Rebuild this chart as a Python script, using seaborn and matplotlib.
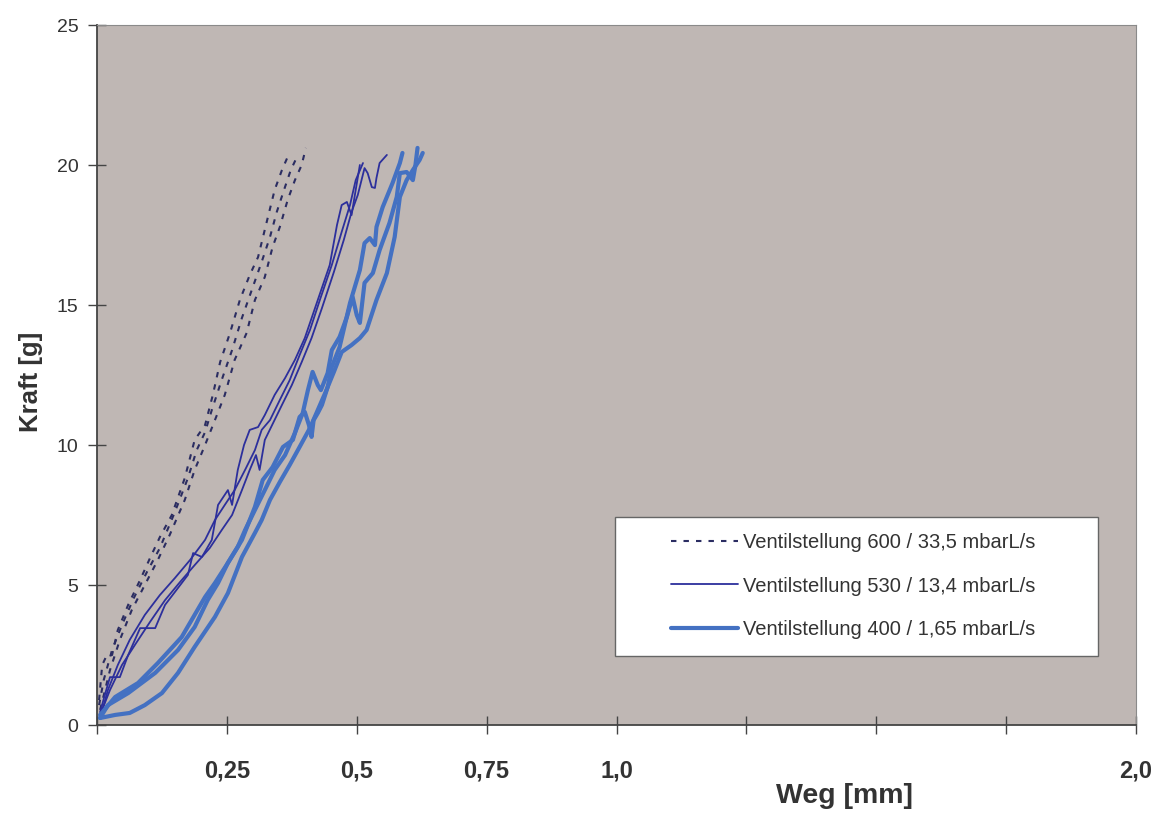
import matplotlib
matplotlib.use("Agg")
import matplotlib.pyplot as plt
from matplotlib.patches import Rectangle
from matplotlib.lines import Line2D
import seaborn as sns
import pandas as pd

# --- Messreihen: Weg [mm] / Kraft [g] -------------------------------------
# Ventilstellung 600 / 33,5 mbarL/s (drei Messungen)
weg_600_a = [0.004, 0.010, 0.019, 0.029, 0.040, 0.060, 0.083, 0.102, 0.121, 0.144, 0.169, 0.188,
             0.208, 0.223, 0.237, 0.256, 0.275, 0.294, 0.310, 0.329, 0.342, 0.356, 0.371]
kraft_600_a = [0.89, 2.14, 2.5, 2.5, 3.39, 4.29, 5.18, 5.96, 6.71, 7.5, 8.82, 10.18,
               10.71, 11.79, 12.96, 14.0, 15.18, 16.07, 16.71, 18.14, 19.11, 19.82, 20.46]
weg_600_b = [0.004, 0.013, 0.029, 0.048, 0.071, 0.096, 0.121, 0.150, 0.175, 0.192, 0.208,
             0.221, 0.240, 0.260, 0.279, 0.298, 0.317, 0.333, 0.346, 0.360, 0.373, 0.385]
kraft_600_b = [0.71, 1.61, 2.68, 3.57, 4.54, 5.46, 6.32, 7.61, 8.82, 9.82, 10.46,
               11.25, 12.32, 13.39, 14.54, 15.54, 16.54, 17.43, 18.32, 19.11, 19.82, 20.29]
weg_600_c = [0.006, 0.025, 0.044, 0.067, 0.092, 0.117, 0.140, 0.169, 0.188, 0.208, 0.227,
             0.246, 0.265, 0.288, 0.304, 0.323, 0.338, 0.352, 0.367, 0.381, 0.394, 0.402]
kraft_600_c = [0.54, 1.96, 3.04, 4.11, 5.0, 5.89, 6.79, 8.04, 9.11, 10.0, 10.89,
               11.79, 13.04, 14.0, 15.18, 16.0, 17.07, 17.79, 18.75, 19.46, 20.0, 20.61]

# Ventilstellung 530 / 13,4 mbarL/s (drei Messungen)
weg_530_a = [0.006, 0.015, 0.025, 0.044, 0.060, 0.083, 0.112, 0.131, 0.150, 0.175, 0.185, 0.202,
             0.221, 0.233, 0.252, 0.260, 0.271, 0.283, 0.294, 0.310, 0.323, 0.342, 0.362, 0.381,
             0.400, 0.425, 0.448, 0.462, 0.471, 0.481, 0.490, 0.498, 0.506]
kraft_530_a = [0.46, 1.07, 1.71, 1.71, 2.5, 3.46, 3.46, 4.29, 4.75, 5.36, 6.14, 6.0,
               6.61, 7.86, 8.39, 7.86, 9.11, 10.0, 10.54, 10.64, 11.07, 11.79, 12.39, 13.04,
               13.82, 15.18, 16.43, 17.86, 18.57, 18.68, 18.21, 19.11, 20.0]
weg_530_b = [0.006, 0.021, 0.040, 0.063, 0.092, 0.121, 0.150, 0.179, 0.208, 0.227, 0.246, 0.265,
             0.285, 0.304, 0.317, 0.333, 0.352, 0.371, 0.390, 0.410, 0.429, 0.452, 0.471, 0.487,
             0.498, 0.512]
kraft_530_b = [0.25, 1.25, 2.14, 3.04, 3.93, 4.64, 5.25, 5.89, 6.61, 7.32, 7.86, 8.39,
               9.11, 9.82, 10.54, 10.89, 11.61, 12.32, 13.21, 14.11, 15.18, 16.43, 17.61, 18.57,
               19.46, 20.07]
weg_530_c = [0.006, 0.025, 0.048, 0.073, 0.102, 0.131, 0.160, 0.188, 0.217, 0.240, 0.260, 0.279,
             0.294, 0.306, 0.313, 0.323, 0.337, 0.356, 0.375, 0.394, 0.413, 0.433, 0.456, 0.475,
             0.490, 0.502, 0.515, 0.521, 0.529, 0.535, 0.538, 0.544, 0.558]
kraft_530_c = [0.36, 1.25, 2.14, 2.86, 3.68, 4.46, 5.11, 5.71, 6.32, 6.96, 7.5, 8.39,
               9.11, 9.64, 9.11, 10.18, 10.71, 11.43, 12.14, 12.96, 13.82, 14.89, 16.18, 17.32,
               18.32, 18.93, 19.89, 19.71, 19.21, 19.18, 19.54, 20.07, 20.36]

# Ventilstellung 400 / 1,65 mbarL/s (drei Messungen)
weg_400_a = [0.006, 0.035, 0.079, 0.117, 0.163, 0.208, 0.227, 0.252, 0.279, 0.304, 0.319, 0.338,
             0.358, 0.377, 0.390, 0.400, 0.408, 0.413, 0.417, 0.425, 0.433, 0.444, 0.452, 0.467,
             0.487, 0.506, 0.515, 0.525, 0.535, 0.538, 0.550, 0.569, 0.583, 0.588]
kraft_400_a = [0.36, 1.0, 1.5, 2.21, 3.14, 4.57, 5.07, 5.79, 6.61, 7.79, 8.75, 9.21,
               9.93, 10.18, 11.0, 11.18, 10.71, 10.29, 10.89, 11.14, 11.43, 12.07, 12.79, 13.5,
               15.07, 16.25, 17.21, 17.39, 17.14, 17.79, 18.5, 19.36, 20.07, 20.43]
weg_400_b = [0.006, 0.021, 0.060, 0.112, 0.156, 0.188, 0.213, 0.233, 0.252, 0.271, 0.285, 0.304,
             0.323, 0.342, 0.362, 0.381, 0.396, 0.406, 0.415, 0.425, 0.431, 0.444, 0.452, 0.467,
             0.481, 0.492, 0.500, 0.506, 0.515, 0.531, 0.544, 0.563, 0.577, 0.583, 0.596, 0.608,
             0.613, 0.617]
kraft_400_b = [0.25, 0.71, 1.14, 1.86, 2.68, 3.5, 4.46, 5.07, 5.79, 6.36, 6.96, 7.68,
               8.39, 9.11, 9.64, 10.43, 11.14, 11.96, 12.61, 12.14, 11.96, 12.57, 13.39, 13.86,
               14.57, 15.29, 14.64, 14.36, 15.79, 16.14, 16.96, 17.93, 18.86, 19.71, 19.75, 19.46,
               20.0, 20.61]
weg_400_c = [0.006, 0.035, 0.063, 0.092, 0.125, 0.156, 0.188, 0.227, 0.252, 0.279, 0.304, 0.317,
             0.333, 0.352, 0.371, 0.390, 0.410, 0.425, 0.440, 0.456, 0.471, 0.490, 0.506, 0.519,
             0.538, 0.558, 0.573, 0.583, 0.596, 0.608, 0.621, 0.627]
kraft_400_c = [0.25, 0.36, 0.43, 0.71, 1.14, 1.86, 2.79, 3.86, 4.71, 6.0, 6.86, 7.32,
               8.04, 8.68, 9.29, 9.93, 10.61, 11.25, 11.89, 12.61, 13.32, 13.57, 13.82, 14.11,
               15.18, 16.14, 17.43, 18.86, 19.46, 19.82, 20.18, 20.43]

series_labels = ["Ventilstellung 600 / 33,5 mbarL/s",
                 "Ventilstellung 530 / 13,4 mbarL/s",
                 "Ventilstellung 400 / 1,65 mbarL/s"]

x_ticks = [0, 0.25, 0.5, 0.75, 1.0, 1.25, 1.5, 1.75, 2.0]
x_tick_labels = ["", "0,25", "0,5", "0,75", "1,0", "", "", "", "2,0"]
y_ticks = [0, 5, 10, 15, 20, 25]
y_tick_labels = ["0", "5", "10", "15", "20", "25"]

# --- Daten in Long-Form ---------------------------------------------------
runs = [
    (series_labels[0], "a", weg_600_a, kraft_600_a),
    (series_labels[0], "b", weg_600_b, kraft_600_b),
    (series_labels[0], "c", weg_600_c, kraft_600_c),
    (series_labels[1], "a", weg_530_a, kraft_530_a),
    (series_labels[1], "b", weg_530_b, kraft_530_b),
    (series_labels[1], "c", weg_530_c, kraft_530_c),
    (series_labels[2], "a", weg_400_a, kraft_400_a),
    (series_labels[2], "b", weg_400_b, kraft_400_b),
    (series_labels[2], "c", weg_400_c, kraft_400_c),
]
frames = []
for serie, run, w, k in runs:
    frames.append(pd.DataFrame({"serie": serie, "run": run, "weg": w, "kraft": k,
                                "order": range(len(w))}))
df = pd.concat(frames, ignore_index=True)

styles = {
    series_labels[0]: dict(color="#2B2D62", lw=1.5, ls=(0, (2.6, 3.4))),
    series_labels[1]: dict(color="#2C2F9C", lw=1.3, ls="-"),
    series_labels[2]: dict(color="#4471C2", lw=3.0, ls="-"),
}

# --- Figur ------------------------------------------------------------------
sns.set_theme(style="white")
plt.rcParams["font.family"] = ["Liberation Sans", "DejaVu Sans"]
text_color = "#333333"

fig = plt.figure(figsize=(11.54, 8.13), dpi=100)
ax = fig.add_axes([97 / 1154, 88 / 813, 1039 / 1154, 700 / 813])
ax.set_facecolor("#BFB7B4")

for (serie, run), sub in df.groupby(["serie", "run"], sort=False):
    st = styles[serie]
    sns.lineplot(data=sub.sort_values("order"), x="weg", y="kraft", sort=False,
                 estimator=None, ax=ax, color=st["color"], linewidth=st["lw"],
                 linestyle=st["ls"], legend=False)

ax.set_xlim(0, 2.0)
ax.set_ylim(0, 25)
ax.set_xticks(x_ticks)
ax.set_xticklabels(x_tick_labels, fontsize=17, fontweight="bold", color=text_color)
ax.set_yticks(y_ticks)
ax.set_yticklabels(y_tick_labels, fontsize=14, color=text_color)
ax.tick_params(axis="x", bottom=True, direction="inout", length=13, width=1,
               color="#444444", pad=18)
ax.tick_params(axis="y", left=True, direction="inout", length=13, width=1,
               color="#444444", pad=7)

ax.set_xlabel("Weg [mm]", fontsize=20.5, fontweight="bold", color=text_color)
ax.xaxis.set_label_coords((845 - 97) / 1039, -0.083)
ax.set_ylabel("Kraft [g]", fontsize=18.5, fontweight="bold", color=text_color)
ax.yaxis.set_label_coords(-0.052, 0.49)

for side in ["left", "bottom"]:
    ax.spines[side].set_color("#444444")
    ax.spines[side].set_linewidth(1.3)
for side in ["top", "right"]:
    ax.spines[side].set_color("#8A8A8A")
    ax.spines[side].set_linewidth(0.8)
ax.grid(False)

# Legendenkasten
box = Rectangle(((615 - 97) / 1039, (725 - 656) / 700), 483 / 1039, 139 / 700,
                transform=ax.transAxes, facecolor="white", edgecolor="#666666",
                linewidth=1.0, zorder=5)
ax.add_patch(box)
handles = [Line2D([], [], **{"color": styles[s]["color"], "linewidth": styles[s]["lw"],
                             "linestyle": styles[s]["ls"]}) for s in series_labels]
leg = ax.legend(handles, series_labels, loc="center",
                bbox_to_anchor=((853 - 97) / 1039, (725 - 586) / 700),
                frameon=False, fontsize=14.5, handlelength=3.3, handletextpad=0.25,
                labelspacing=1.2, labelcolor=text_color)
leg.set_zorder(6)

fig.savefig("out.png", dpi=100)
